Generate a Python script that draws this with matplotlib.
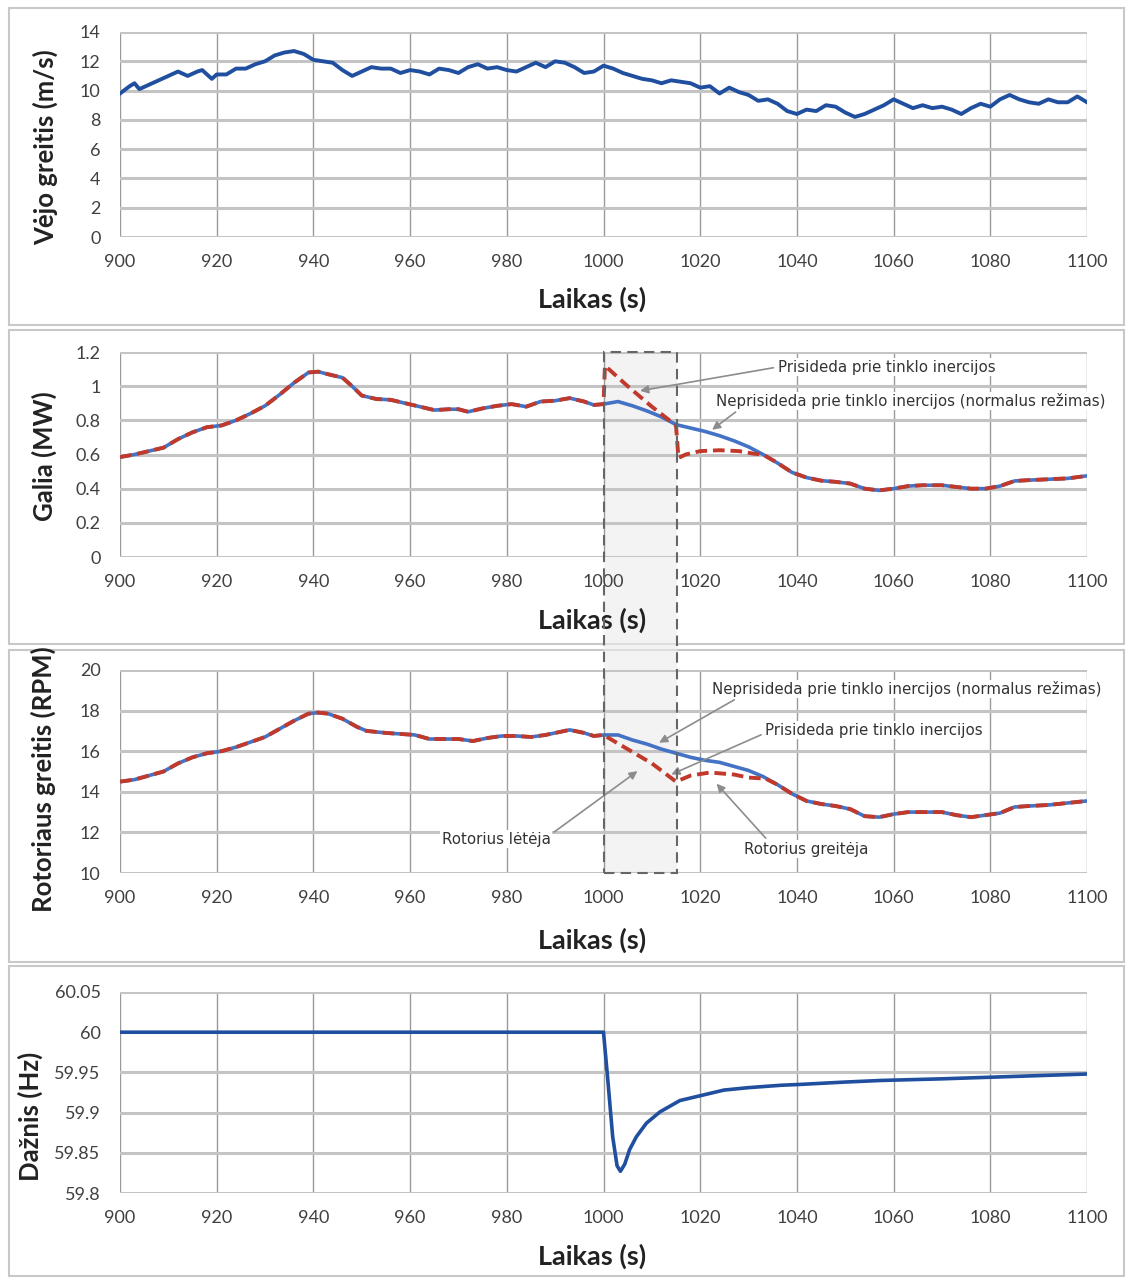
import matplotlib
matplotlib.use('Agg')
import matplotlib.pyplot as plt
from matplotlib.patches import Rectangle
from matplotlib.ticker import FuncFormatter

plt.rcParams['font.family'] = ['Lato', 'DejaVu Sans']

# 1. vėjo greitis
wind_t = [900, 902, 903, 904, 906, 908, 910, 912, 914, 916, 917, 919, 920, 922, 924, 926, 928, 930,
          932, 934, 936, 938, 940, 942, 944, 946, 948, 950, 952, 954, 956, 958, 960, 962, 964, 966,
          968, 970, 972, 974, 976, 978, 980, 982, 984, 986, 988, 990, 992, 994, 996, 998, 1000, 1002,
          1004, 1006, 1008, 1010, 1012, 1014, 1016, 1018, 1020, 1022, 1024, 1026, 1028, 1030, 1032,
          1034, 1036, 1038, 1040, 1042, 1044, 1046, 1048, 1050, 1052, 1054, 1056, 1058, 1060, 1062,
          1064, 1066, 1068, 1070, 1072, 1074, 1076, 1078, 1080, 1082, 1084, 1086, 1088, 1090, 1092,
          1094, 1096, 1098, 1100]
wind_v = [9.8, 10.3, 10.5, 10.1, 10.4, 10.7, 11.0, 11.3, 11.0, 11.3, 11.4, 10.8, 11.1, 11.1, 11.5,
          11.5, 11.8, 12.0, 12.4, 12.6, 12.7, 12.5, 12.1, 12.0, 11.9, 11.4, 11.0, 11.3, 11.6, 11.5,
          11.5, 11.2, 11.4, 11.3, 11.1, 11.5, 11.4, 11.2, 11.6, 11.8, 11.5, 11.6, 11.4, 11.3, 11.6,
          11.9, 11.6, 12.0, 11.9, 11.6, 11.2, 11.3, 11.7, 11.5, 11.2, 11.0, 10.8, 10.7, 10.5, 10.7,
          10.6, 10.5, 10.2, 10.3, 9.8, 10.2, 9.9, 9.7, 9.3, 9.4, 9.1, 8.6, 8.4, 8.7, 8.6, 9.0, 8.9,
          8.5, 8.2, 8.4, 8.7, 9.0, 9.4, 9.1, 8.8, 9.0, 8.8, 8.9, 8.7, 8.4, 8.8, 9.1, 8.9, 9.4, 9.7,
          9.4, 9.2, 9.1, 9.4, 9.2, 9.2, 9.6, 9.2]

# 2. galia
power_t = [900, 903, 906, 909, 912, 915, 918, 921, 924, 927, 930, 933, 936, 939, 941, 943, 946, 948,
           950, 953, 956, 959, 962, 965, 968, 970, 972, 975, 978, 981, 984, 987, 990, 993, 996, 998,
           1000, 1003, 1006, 1009, 1012, 1015, 1018, 1021, 1024, 1027, 1030, 1033, 1036, 1039, 1042,
           1045, 1048, 1051, 1054, 1057, 1060, 1063, 1066, 1070, 1073, 1076, 1079, 1082, 1085, 1088,
           1092, 1096, 1100]
power_normal = [0.585, 0.60, 0.62, 0.64, 0.69, 0.73, 0.76, 0.77, 0.80, 0.84, 0.885, 0.95, 1.02, 1.08,
                1.085, 1.07, 1.05, 1.00, 0.945, 0.925, 0.92, 0.90, 0.88, 0.86, 0.865, 0.865, 0.85,
                0.87, 0.885, 0.895, 0.88, 0.91, 0.915, 0.93, 0.91, 0.89, 0.895, 0.91, 0.885, 0.855,
                0.82, 0.775, 0.755, 0.735, 0.71, 0.68, 0.645, 0.60, 0.55, 0.495, 0.465, 0.447, 0.44,
                0.43, 0.40, 0.39, 0.40, 0.415, 0.42, 0.42, 0.41, 0.40, 0.40, 0.415, 0.445, 0.45,
                0.455, 0.46, 0.475]
power_inertia_t = [1000, 1000.3, 1005, 1010, 1015, 1015.5, 1017, 1020, 1024, 1028, 1031, 1033]
power_inertia = [0.895, 1.12, 1.0, 0.88, 0.77, 0.58, 0.60, 0.62, 0.625, 0.62, 0.605, 0.60]

# 3. rotoriaus greitis
rotor_t = [900, 903, 906, 909, 912, 915, 918, 921, 924, 927, 930, 933, 936, 939, 941, 943, 946, 949,
           951, 955, 958, 961, 964, 967, 970, 973, 976, 979, 982, 985, 988, 991, 993, 996, 998, 1000,
           1003, 1006, 1009, 1012, 1015, 1018, 1021, 1024, 1027, 1030, 1033, 1036, 1039, 1042, 1045,
           1048, 1051, 1054, 1057, 1060, 1063, 1066, 1070, 1073, 1076, 1079, 1082, 1085, 1088, 1092,
           1096, 1100]
rotor_normal = [14.5, 14.6, 14.8, 15.0, 15.4, 15.7, 15.9, 16.0, 16.2, 16.45, 16.7, 17.1, 17.5, 17.85,
                17.9, 17.85, 17.6, 17.2, 17.0, 16.9, 16.85, 16.8, 16.6, 16.6, 16.6, 16.5, 16.65,
                16.75, 16.75, 16.7, 16.8, 16.95, 17.05, 16.9, 16.75, 16.8, 16.8, 16.55, 16.35, 16.1,
                15.9, 15.7, 15.55, 15.45, 15.25, 15.05, 14.75, 14.35, 13.9, 13.55, 13.4, 13.3, 13.15,
                12.8, 12.75, 12.9, 13.0, 13.0, 13.0, 12.85, 12.75, 12.85, 12.95, 13.25, 13.3, 13.35,
                13.45, 13.55]
rotor_inertia_t = [1000, 1005, 1010, 1015, 1018, 1022, 1027, 1030, 1033.5]
rotor_inertia = [16.8, 16.1, 15.4, 14.5, 14.8, 14.95, 14.85, 14.7, 14.65]

# 4. dažnis
freq_t = [900, 1000, 1000.9, 1001.9, 1002.8, 1003.5, 1004.4, 1005.4, 1006.8, 1008.9, 1011.7,
          1015.8, 1020, 1024.9, 1029.9, 1036.7, 1040.5, 1050, 1057.5, 1070, 1080, 1090, 1100]
freq_v = [60.0, 60.0, 59.94, 59.87, 59.834, 59.827, 59.836, 59.854, 59.870, 59.887, 59.901,
          59.915, 59.921, 59.928, 59.931, 59.934, 59.935, 59.938, 59.940, 59.942, 59.944, 59.946,
          59.948]

x_ticks = list(range(900, 1101, 20))
inertia_window = [1000, 1015.3]

BLUE_DARK = '#1f4f9e'
BLUE = '#4472c4'
RED = '#c0392b'


def with_segment(t, base, seg_t, seg_v):
    """base kreivė su įterptu inercijos segmentu"""
    t0, t1 = seg_t[0], seg_t[-1]
    tt = [x for x in t if x < t0] + list(seg_t) + [x for x in t if x > t1]
    vv = [v for x, v in zip(t, base) if x < t0] + list(seg_v) + [v for x, v in zip(t, base) if x > t1]
    return tt, vv


W, H = 1130, 1281
fig = plt.figure(figsize=(W / 100, H / 100), dpi=100)

def axes_px(top, bottom):
    return fig.add_axes([120 / W, 1 - bottom / H, (1087 - 120) / W, (bottom - top) / H])

ax1 = axes_px(32, 237)
ax2 = axes_px(352, 557)
ax3 = axes_px(670, 873)
ax4 = axes_px(992, 1193)

# panelių rėmeliai
for top, bottom in [(8, 325), (330, 644), (650, 962), (966, 1276)]:
    fig.patches.append(Rectangle((9 / W, 1 - bottom / H), (1124 - 9) / W, (bottom - top) / H,
                                 transform=fig.transFigure, fill=False, edgecolor='#c8c8c8',
                                 linewidth=1.5, zorder=-2))

fmt = FuncFormatter(lambda v, p: f'{v:g}')
settings = [
    (ax1, (0, 14), range(0, 15, 2), 'Vėjo greitis (m/s)', (-0.064, 0.44), -0.244),
    (ax2, (0, 1.2), [0, 0.2, 0.4, 0.6, 0.8, 1.0, 1.2], 'Galia (MW)', (-0.065, 0.49), -0.249),
    (ax3, (10, 20), range(10, 21, 2), 'Rotoriaus greitis (RPM)', (-0.066, 0.46), -0.27),
    (ax4, (59.8, 60.05), [59.8, 59.85, 59.9, 59.95, 60.0, 60.05], 'Dažnis (Hz)', (-0.080, 0.38), -0.25),
]
for ax, ylim, yticks, ylabel, ylab_pos, xlab_y in settings:
    ax.set_xlim(900, 1100)
    ax.set_ylim(*ylim)
    ax.set_xticks(x_ticks)
    ax.set_yticks(list(yticks))
    ax.yaxis.set_major_formatter(fmt)
    ax.set_facecolor('none')
    for s in ax.spines.values():
        s.set_visible(False)
    ax.tick_params(length=0, labelsize=13, labelcolor='#404040')
    ax.tick_params(axis='y', pad=14)
    ax.tick_params(axis='x', pad=12)
    ax.grid(axis='y', color='#c4c4c4', linewidth=2.2)
    ax.grid(axis='x', color='#9a9a9a', linewidth=1.0)
    ax.set_axisbelow(True)
    ax.set_ylabel(ylabel, fontsize=18.5, fontweight='bold', color='#222222')
    ax.yaxis.set_label_coords(*ylab_pos)
    ax.set_xlabel('Laikas (s)', fontsize=19.5, fontweight='bold', color='#222222')
    ax.xaxis.set_label_coords(0.488, xlab_y)

ax1.plot(wind_t, wind_v, color=BLUE_DARK, linewidth=2.8)

pt, pv = with_segment(power_t, power_normal, power_inertia_t, power_inertia)
ax2.plot(power_t, power_normal, color=BLUE, linewidth=2.6)
ax2.plot(pt, pv, color=RED, linewidth=2.8, linestyle=(0, (3, 1.5)))

rt, rv = with_segment(rotor_t, rotor_normal, rotor_inertia_t, rotor_inertia)
ax3.plot(rotor_t, rotor_normal, color=BLUE, linewidth=2.6)
ax3.plot(rt, rv, color=RED, linewidth=2.8, linestyle=(0, (3, 1.5)))

ax4.plot(freq_t, freq_v, color=BLUE_DARK, linewidth=2.6)

# inercijos langas (brūkšninis stačiakampis per 2 ir 3 panelį)
to_fig = fig.transFigure.inverted()
x0, y_top = to_fig.transform(ax2.transData.transform((inertia_window[0], 1.2)))
x1, y_bot = to_fig.transform(ax3.transData.transform((inertia_window[1], 10)))
fig.patches.append(Rectangle((x0, y_bot), x1 - x0, y_top - y_bot, transform=fig.transFigure,
                             facecolor='#ececec', edgecolor='none', alpha=0.6, zorder=-1))
fig.patches.append(Rectangle((x0, y_bot), x1 - x0, y_top - y_bot, transform=fig.transFigure,
                             fill=False, edgecolor='#666666', linestyle=(0, (5, 3)),
                             linewidth=1.5, zorder=5))

ann = dict(fontsize=10.8, family=['DejaVu Sans'], color='#333333',
           bbox=dict(facecolor='white', edgecolor='none', pad=1))
arrow = dict(arrowstyle='-|>', color='#8c8c8c', linewidth=1.2, mutation_scale=12)

ax2.annotate('Prisideda prie tinklo inercijos', xy=(1007, 0.97), xytext=(1036, 1.112),
             ha='left', va='center', arrowprops=dict(arrow, relpos=(0, 0.5)), **ann)
ax2.annotate('Neprisideda prie tinklo inercijos (normalus režimas)', xy=(1022, 0.735),
             xytext=(1023.3, 0.913), ha='left', va='center',
             arrowprops=dict(arrow, relpos=(0.06, 0)), **ann)

ax3.annotate('Neprisideda prie tinklo inercijos (normalus režimas)', xy=(1011, 16.35),
             xytext=(1022.4, 19.06), ha='left', va='center',
             arrowprops=dict(arrow, relpos=(0.07, 0)), **ann)
ax3.annotate('Prisideda prie tinklo inercijos', xy=(1013.5, 14.8), xytext=(1033.4, 17.04),
             ha='left', va='center', arrowprops=dict(arrow, relpos=(0, 0.3)), **ann)
ax3.annotate('Rotorius lėtėja', xy=(1007.5, 15.1), xytext=(977.8, 11.67),
             ha='center', va='center', arrowprops=dict(arrow, relpos=(1, 0.8)), **ann)
ax3.annotate('Rotorius greitėja', xy=(1023, 14.5), xytext=(1041.9, 11.18),
             ha='center', va='center', arrowprops=dict(arrow, relpos=(0.2, 1)), **ann)

plt.savefig('out.png', dpi=100)
